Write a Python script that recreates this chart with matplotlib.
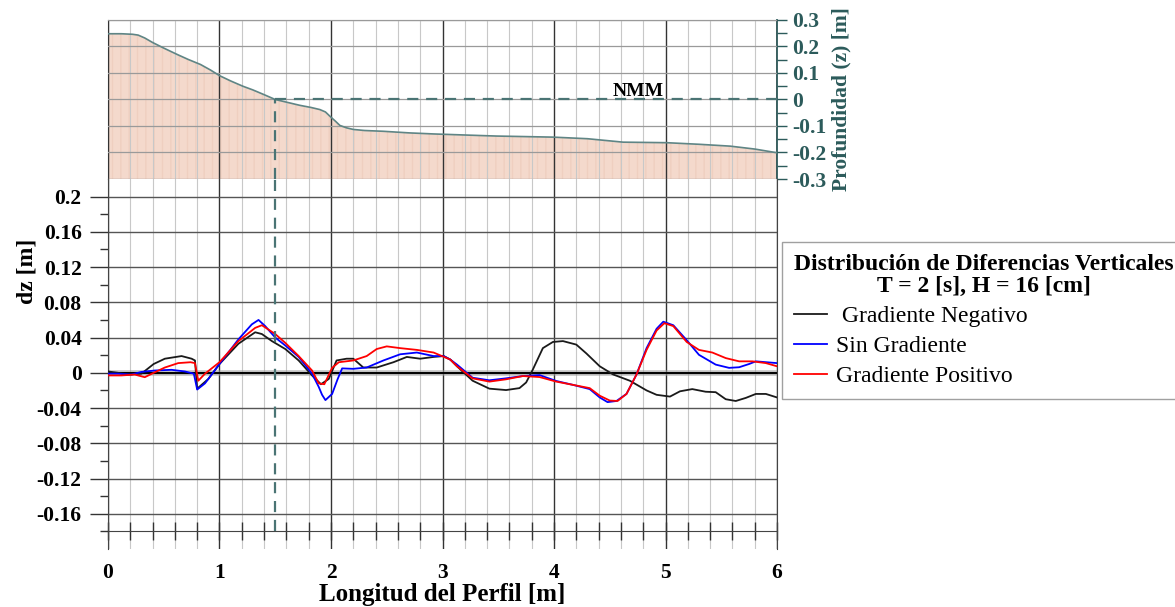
import numpy as np
import matplotlib
matplotlib.use("Agg")
import matplotlib.pyplot as plt
from matplotlib.ticker import MultipleLocator, FixedLocator

plt.rcParams['font.family'] = ['Liberation Serif', 'DejaVu Serif']

# perfil de fondo (panel superior)
perfil_x = [0.0, 0.12, 0.22, 0.27, 0.33, 0.40, 0.50, 0.62, 0.72, 0.83, 0.92, 1.0, 1.1, 1.21,
            1.30, 1.39, 1.5, 1.6, 1.72, 1.82, 1.90, 1.95, 1.99, 2.04, 2.08, 2.14, 2.2, 2.3,
            2.47, 2.7, 2.92, 3.34, 3.49, 3.99, 4.3, 4.62, 5.01, 5.3, 5.58, 5.8, 6.0]
perfil_z = [0.248, 0.248, 0.246, 0.243, 0.232, 0.215, 0.194, 0.17, 0.151, 0.132, 0.111, 0.09,
            0.07, 0.05, 0.036, 0.02, 0.0, -0.01, -0.022, -0.03, -0.038, -0.047, -0.063, -0.082,
            -0.098, -0.107, -0.113, -0.117, -0.12, -0.126, -0.13, -0.136, -0.138, -0.142,
            -0.148, -0.161, -0.163, -0.169, -0.176, -0.187, -0.201]
nmm_x = 1.5

# diferencias verticales
neg_x = [0.0, 0.09, 0.18, 0.30, 0.41, 0.51, 0.66, 0.75, 0.78, 0.80, 0.90, 1.0, 1.17, 1.32,
         1.38, 1.47, 1.59, 1.71, 1.83, 1.91, 1.98, 2.05, 2.14, 2.20, 2.29, 2.41, 2.56, 2.68,
         2.80, 2.92, 3.01, 3.07, 3.13, 3.27, 3.42, 3.57, 3.69, 3.75, 3.81, 3.90, 3.99, 4.08,
         4.20, 4.29, 4.41, 4.53, 4.68, 4.83, 4.92, 5.04, 5.13, 5.24, 5.36, 5.45, 5.54, 5.63,
         5.72, 5.81, 5.90, 6.0]
neg_dz = [0.0015, 0.0, -0.002, -0.001, 0.010, 0.016, 0.019, 0.016, 0.014, -0.018, -0.007, 0.010,
          0.033, 0.046, 0.044, 0.036, 0.027, 0.014, -0.003, -0.013, -0.007, 0.014, 0.016, 0.016,
          0.006, 0.006, 0.012, 0.018, 0.016, 0.018, 0.019, 0.015, 0.0074, -0.009, -0.018, -0.0196,
          -0.0174, -0.011, 0.0037, 0.028, 0.035, 0.036, 0.032, 0.022, 0.0074, -0.0019, -0.009,
          -0.020, -0.025, -0.027, -0.021, -0.0185, -0.0215, -0.022, -0.030, -0.032, -0.0285,
          -0.024, -0.024, -0.028]

sin_x = [0.0, 0.09, 0.21, 0.30, 0.42, 0.57, 0.69, 0.77, 0.80, 0.87, 1.0, 1.17, 1.29, 1.35,
         1.41, 1.50, 1.59, 1.71, 1.83, 1.89, 1.92, 1.95, 2.01, 2.06, 2.10, 2.20, 2.32, 2.47,
         2.62, 2.77, 2.92, 3.01, 3.07, 3.13, 3.27, 3.42, 3.57, 3.72, 3.87, 4.02, 4.17, 4.32,
         4.41, 4.48, 4.56, 4.65, 4.74, 4.83, 4.92, 4.98, 5.07, 5.19, 5.30, 5.45, 5.57, 5.66,
         5.75, 5.81, 6.0]
sin_dz = [-0.001, -0.001, -0.002, 0.001, 0.0026, 0.0034, 0.0015, -0.001, -0.019, -0.012, 0.010,
          0.038, 0.055, 0.060, 0.053, 0.040, 0.031, 0.018, -0.001, -0.016, -0.025, -0.031,
          -0.024, -0.007, 0.005, 0.0045, 0.006, 0.014, 0.021, 0.023, 0.019, 0.019, 0.015,
          0.0093, -0.0056, -0.0085, -0.0063, -0.0037, -0.0026, -0.0093, -0.0137, -0.0185,
          -0.028, -0.0333, -0.032, -0.024, -0.0019, 0.028, 0.050, 0.058, 0.054, 0.037, 0.0204,
          0.0093, 0.0056, 0.0063, 0.010, 0.013, 0.011]

pos_x = [0.0, 0.12, 0.24, 0.33, 0.41, 0.51, 0.63, 0.74, 0.78, 0.81, 0.87, 1.0, 1.17, 1.32,
         1.38, 1.50, 1.59, 1.71, 1.83, 1.89, 1.94, 2.01, 2.07, 2.20, 2.32, 2.41, 2.50, 2.62,
         2.77, 2.92, 3.07, 3.13, 3.27, 3.42, 3.57, 3.72, 3.87, 4.02, 4.17, 4.32, 4.41, 4.50,
         4.57, 4.65, 4.74, 4.83, 4.92, 4.99, 5.07, 5.19, 5.30, 5.42, 5.54, 5.66, 5.78, 5.90, 6.0]
pos_dz = [-0.003, -0.003, -0.002, -0.005, 0.0, 0.006, 0.011, 0.012, 0.011, -0.009, -0.001,
          0.012, 0.036, 0.051, 0.054, 0.044, 0.034, 0.019, 0.0026, -0.012, -0.013, 0.0056,
          0.012, 0.014, 0.019, 0.027, 0.030, 0.028, 0.026, 0.023, 0.015, 0.0074, -0.0063,
          -0.010, -0.0074, -0.0037, -0.0048, -0.010, -0.0137, -0.0174, -0.026, -0.0315, -0.032,
          -0.024, -0.0019, 0.026, 0.048, 0.0563, 0.053, 0.035, 0.026, 0.023, 0.0167, 0.013,
          0.013, 0.011, 0.0074]

top_ticks = [0.3, 0.2, 0.1, 0.0, -0.1, -0.2, -0.3]
top_labels = ['0.3', '0.2', '0.1', '0', '-0.1', '-0.2', '-0.3']
dz_ticks = [0.2, 0.16, 0.12, 0.08, 0.04, 0.0, -0.04, -0.08, -0.12, -0.16]
dz_labels = ['0.2', '0.16', '0.12', '0.08', '0.04', '0', '-0.04', '-0.08', '-0.12', '-0.16']

teal = '#2c5b5b'
fig = plt.figure(figsize=(11.75, 6.07), dpi=100)
ax_top = fig.add_axes([0.0919, 0.7051, 0.5694, 0.2620])
ax = fig.add_axes([0.0919, 0.0956, 0.5694, 0.6095])

# ---- panel superior: perfil ----
ax_top.fill_between(perfil_x, perfil_z, -0.3, facecolor='#f4d9cc', edgecolor='#efcfc0',
                    hatch='||', linewidth=0, zorder=1)
ax_top.plot(perfil_x, perfil_z, color='#5f8585', lw=1.2, zorder=3)
ax_top.set_xlim(0, 6)
ax_top.set_ylim(-0.3, 0.3)
ax_top.xaxis.set_major_locator(MultipleLocator(1))
ax_top.xaxis.set_minor_locator(MultipleLocator(0.2))
ax_top.grid(True, which='minor', axis='x', color='#c8c8c8', lw=0.8)
ax_top.grid(True, which='major', axis='x', color='#333333', lw=1.0)
ax_top.set_yticks(top_ticks)
ax_top.yaxis.set_minor_locator(MultipleLocator(0.05))
ax_top.grid(True, which='major', axis='y', color='#9a9a9a', lw=0.9)
ax_top.set_axisbelow(False)
ax_top.tick_params(axis='x', which='both', bottom=False, labelbottom=False)
ax_top.yaxis.tick_right()
ax_top.set_yticklabels(top_labels)
ax_top.tick_params(axis='y', which='both', direction='out', length=7, width=1, color=teal,
                   labelcolor=teal, labelsize=15.5, pad=4)
for lab in ax_top.get_yticklabels():
    lab.set_fontweight('bold')
ax_top.yaxis.set_label_position('right')
ax_top.set_ylabel('Profundidad (z) [m]', color=teal, fontsize=15.5, fontweight='bold')
ax_top.yaxis.set_label_coords(1.082, 0.5)
for s in ['left', 'top']:
    ax_top.spines[s].set_color('#555555')
ax_top.spines['bottom'].set_color('#888888')
ax_top.spines['right'].set_color(teal)
ax_top.spines['right'].set_linewidth(1.3)

ax_top.plot([nmm_x, 6], [0, 0], color='#4a7474', lw=1.6, ls=(0, (5, 3.5)), zorder=4)
ax_top.plot([nmm_x, nmm_x], [-0.3, 0], color='#4a7474', lw=1.6, ls=(0, (5, 3.5)), zorder=4)
ax_top.text(4.98, 0.012, 'NMM', ha='right', va='baseline', fontsize=14, fontweight='bold')

# ---- panel inferior: diferencias ----
ax.set_xlim(0, 6)
ax.set_ylim(-0.2, 0.22)
ax.xaxis.set_major_locator(MultipleLocator(1))
ax.xaxis.set_minor_locator(MultipleLocator(0.2))
ax.grid(True, which='minor', axis='x', color='#c8c8c8', lw=0.8)
ax.grid(True, which='major', axis='x', color='#333333', lw=1.0)
ax.set_yticks(dz_ticks)
ax.set_yticklabels(dz_labels)
ax.yaxis.set_minor_locator(FixedLocator([0.18, 0.14, 0.10, 0.06, 0.02, -0.02, -0.06,
                                         -0.10, -0.14, -0.18]))
ax.grid(True, which='major', axis='y', color='#555555', lw=1.0)
ax.set_axisbelow(True)

ax.axhline(0, color='#999999', lw=4, alpha=0.6, zorder=2)
ax.axhline(0, color='black', lw=1.4, zorder=2.1)
ax.plot(neg_x, neg_dz, color='#1a1a1a', lw=1.3, zorder=3, label=' Gradiente Negativo')
ax.plot(sin_x, sin_dz, color='#0000ff', lw=1.3, zorder=3, label='Sin Gradiente')
ax.plot(pos_x, pos_dz, color='#ff0000', lw=1.3, zorder=3, label='Gradiente Positivo')
ax.plot([nmm_x, nmm_x], [-0.18, 0.22], color='#4a7474', lw=1.6, ls=(0, (5, 3.5)), zorder=4)

ax.spines['top'].set_visible(False)
ax.spines['bottom'].set_position(('data', -0.18))
ax.spines['bottom'].set_color('#444444')
ax.spines['left'].set_color('#444444')
ax.spines['right'].set_color('#444444')
ax.tick_params(axis='x', which='both', direction='inout', length=13, width=1, color='#333333',
               labelsize=15.5, pad=16)
ax.tick_params(axis='y', which='major', direction='out', length=13, width=1, color='#333333',
               labelsize=15.5, pad=6)
ax.tick_params(axis='y', which='minor', direction='out', length=6, width=1, color='#333333')
for lab in ax.get_xticklabels() + ax.get_yticklabels():
    lab.set_fontweight('bold')
ax.set_ylabel('dz [m]', fontsize=17, fontweight='bold')
ax.yaxis.set_label_coords(-0.106, 0.75)
ax.set_xlabel('Longitud del Perfil [m]', fontsize=18, fontweight='bold')
ax.xaxis.set_label_coords(0.5, -0.093)

leg = fig.legend(loc='upper left', bbox_to_anchor=(0.6655, 0.601), frameon=True,
                 fontsize=17, title='Distribución de Diferencias Verticales\nT = 2 [s], H = 16 [cm]',
                 title_fontproperties={'weight': 'bold', 'size': 17}, fancybox=False,
                 alignment='left', borderaxespad=0,
                 handlelength=1.4, handletextpad=0.4, labelspacing=0.36, borderpad=0.5)
leg.get_title().set_multialignment('center')
leg.get_title().set_linespacing(1.05)
leg.get_frame().set_edgecolor('#888888')
leg.get_frame().set_linewidth(1.0)

fig.savefig('out.png', dpi=100)
